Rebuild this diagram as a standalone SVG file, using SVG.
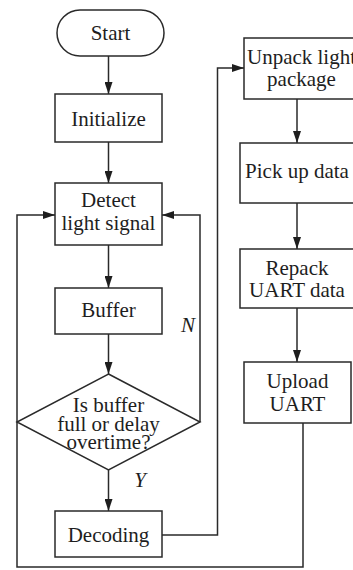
<svg xmlns="http://www.w3.org/2000/svg" width="353" height="570" viewBox="0 0 353 570">
<style>
.b{fill:#fff;stroke:#2a2a2a;stroke-width:1.5}
.c{fill:none;stroke:#2a2a2a;stroke-width:1.5}
text{font-family:"Liberation Serif","Times New Roman",serif;font-size:21px;fill:#1e1e1e;text-anchor:middle}
.i{font-style:italic}
</style>
<defs>
<marker id="a" viewBox="0 0 12 8" refX="12" refY="4" markerWidth="12" markerHeight="8" markerUnits="userSpaceOnUse" orient="auto">
<path d="M0,0 L12,4 L0,8 Z" fill="#1e1e1e"/>
</marker>
</defs>
<rect width="353" height="570" fill="#fff"/>
<g id="connectors">
<path class="c" d="M108.5,56 V94" marker-end="url(#a)"/>
<path class="c" d="M108.5,142 V183" marker-end="url(#a)"/>
<path class="c" d="M108.5,245 V288" marker-end="url(#a)"/>
<path class="c" d="M108.5,334 V374" marker-end="url(#a)"/>
<path class="c" d="M108.5,470 V511" marker-end="url(#a)"/>
<path class="c" d="M200,422 V215 H162" marker-end="url(#a)"/>
<path class="c" d="M162,535 H217.5 V68 H244" marker-end="url(#a)"/>
<path class="c" d="M297,99 V143" marker-end="url(#a)"/>
<path class="c" d="M297,203 V249" marker-end="url(#a)"/>
<path class="c" d="M297,308 V362" marker-end="url(#a)"/>
<path class="c" d="M303,423 V567 H17 V215 H55" marker-end="url(#a)"/>
<text class="i" x="188" y="332">N</text>
<text class="i" x="140" y="487">Y</text>
</g>
<g id="start">
<rect class="b" x="57" y="10" width="107" height="46" rx="23"/>
<text x="110.5" y="40">Start</text>
</g>
<g id="initialize">
<rect class="b" x="55" y="94" width="107" height="48"/>
<text x="108.5" y="126">Initialize</text>
</g>
<g id="detect">
<rect class="b" x="55" y="183" width="107" height="62"/>
<text x="108.5" y="207">Detect</text>
<text x="108.5" y="230">light signal</text>
</g>
<g id="buffer">
<rect class="b" x="55" y="288" width="107" height="46"/>
<text x="108.5" y="317">Buffer</text>
</g>
<g id="decision">
<polygon class="b" points="108.5,374 200,422 108.5,470 17,422"/>
<text x="108.5" y="412">Is buffer</text>
<text x="108.5" y="431">full or delay</text>
<text x="108.5" y="449">overtime?</text>
</g>
<g id="decoding">
<rect class="b" x="55" y="511" width="107" height="46"/>
<text x="108.5" y="542">Decoding</text>
</g>
<g id="unpack">
<rect class="b" x="244" y="38" width="115" height="61"/>
<text x="301.5" y="64">Unpack light</text>
<text x="301.5" y="86">package</text>
</g>
<g id="pickup">
<rect class="b" x="240" y="143" width="118" height="60"/>
<text x="297" y="178">Pick up data</text>
</g>
<g id="repack">
<rect class="b" x="240" y="249" width="118" height="59"/>
<text x="297" y="275">Repack</text>
<text x="297" y="297">UART data</text>
</g>
<g id="upload">
<rect class="b" x="244" y="362" width="107" height="61"/>
<text x="297.5" y="388">Upload</text>
<text x="297.5" y="411">UART</text>
</g>
</svg>
